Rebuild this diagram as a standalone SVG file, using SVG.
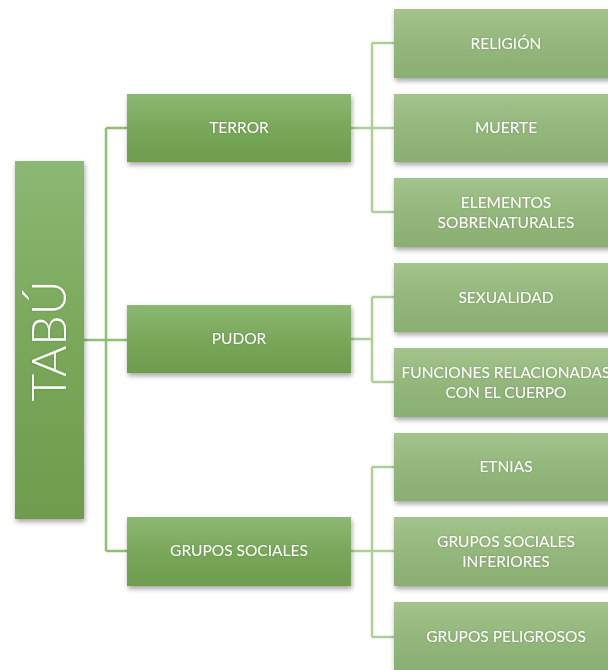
<svg xmlns="http://www.w3.org/2000/svg" width="608" height="670" viewBox="0 0 608 670">
<defs>
<linearGradient id="g1" x1="0" y1="0" x2="0" y2="1">
<stop offset="0" stop-color="#8bb872"/>
<stop offset="0.5" stop-color="#79a85a"/>
<stop offset="1" stop-color="#6e9c4e"/>
</linearGradient>
<linearGradient id="g2" x1="0" y1="0" x2="0" y2="1">
<stop offset="0" stop-color="#a3c48c"/>
<stop offset="0.5" stop-color="#94b77c"/>
<stop offset="1" stop-color="#8aaf72"/>
</linearGradient>
<filter id="sh" x="-10%" y="-10%" width="130%" height="140%">
<feDropShadow dx="1" dy="3" stdDeviation="2.5" flood-color="#000" flood-opacity="0.35"/>
</filter>
<filter id="ts" x="-10%" y="-30%" width="120%" height="160%">
<feDropShadow dx="0" dy="0" stdDeviation="1" flood-color="#000" flood-opacity="0.2"/>
</filter>
</defs>
<style>
.l1{fill:url(#g1);filter:url(#sh)}
.l2{fill:url(#g2);filter:url(#sh)}
.t{font-family:Lato,"Open Sans","Liberation Sans",sans-serif;font-size:15.5px;fill:#fff;text-anchor:middle;filter:url(#ts)}
.c1{stroke:#8fbf72;stroke-width:2.5;fill:none}
.c2{stroke:#abcf96;stroke-width:2.5;fill:none}
</style>
<rect width="608" height="670" fill="#fff"/>
<g id="connectors">
<path class="c1" d="M84 340H106M106 128V551M106 128H127M106 340H127M106 551H127"/>
<path class="c2" d="M351 128H394M372 43V212M372 43H394M372 212H394"/>
<path class="c2" d="M351 339H372M372 297V382M372 297H394M372 382H394"/>
<path class="c2" d="M351 551H394M372 467V637M372 467H394M372 637H394"/>
</g>
<g id="tabu">
<rect class="l1" x="15" y="161" width="69" height="358"/>
<text class="t" transform="translate(66,341) rotate(-90)" style="font-size:48px;font-weight:300">TABÚ</text>
</g>
<g id="terror">
<rect class="l1" x="127" y="94" width="224" height="68"/>
<text class="t" x="239" y="133">TERROR</text>
</g>
<g id="pudor">
<rect class="l1" x="127" y="305" width="224" height="68"/>
<text class="t" x="239" y="344">PUDOR</text>
</g>
<g id="grupos-sociales">
<rect class="l1" x="127" y="517" width="224" height="69"/>
<text class="t" x="239" y="556">GRUPOS SOCIALES</text>
</g>
<g id="religion">
<rect class="l2" x="394" y="9" width="224" height="69"/>
<text class="t" x="506" y="49">RELIGIÓN</text>
</g>
<g id="muerte">
<rect class="l2" x="394" y="94" width="224" height="68"/>
<text class="t" x="506" y="133">MUERTE</text>
</g>
<g id="elementos">
<rect class="l2" x="394" y="178" width="224" height="69"/>
<text class="t" x="506" y="208">ELEMENTOS</text>
<text class="t" x="506" y="228">SOBRENATURALES</text>
</g>
<g id="sexualidad">
<rect class="l2" x="394" y="263" width="224" height="69"/>
<text class="t" x="506" y="303">SEXUALIDAD</text>
</g>
<g id="funciones">
<rect class="l2" x="394" y="348" width="224" height="69"/>
<text class="t" x="506" y="378">FUNCIONES RELACIONADAS</text>
<text class="t" x="506" y="398">CON EL CUERPO</text>
</g>
<g id="etnias">
<rect class="l2" x="394" y="433" width="224" height="68"/>
<text class="t" x="506" y="472">ETNIAS</text>
</g>
<g id="inferiores">
<rect class="l2" x="394" y="517" width="224" height="69"/>
<text class="t" x="506" y="547">GRUPOS SOCIALES</text>
<text class="t" x="506" y="567">INFERIORES</text>
</g>
<g id="peligrosos">
<rect class="l2" x="394" y="602" width="224" height="69"/>
<text class="t" x="506" y="642">GRUPOS PELIGROSOS</text>
</g>
</svg>
